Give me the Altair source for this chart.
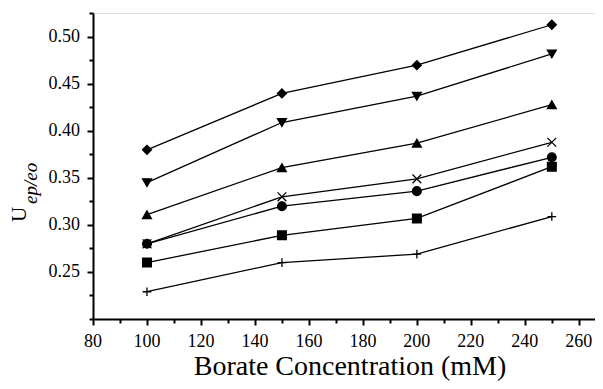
import altair as alt
import pandas as pd

# ---- data ----
conc = [100, 150, 200, 250]
series_names = ["diamond", "tri_down", "tri_up", "cross", "circle", "square", "plus"]
u_diamond = [0.380, 0.440, 0.470, 0.513]
u_tri_down = [0.345, 0.409, 0.437, 0.482]
u_tri_up = [0.311, 0.361, 0.387, 0.428]
u_cross = [0.280, 0.330, 0.349, 0.388]
u_circle = [0.280, 0.320, 0.336, 0.372]
u_square = [0.260, 0.289, 0.307, 0.362]
u_plus = [0.229, 0.260, 0.269, 0.309]

x_major = [80, 100, 120, 140, 160, 180, 200, 220, 240, 260]
x_minor = [90, 110, 130, 150, 170, 190, 210, 230, 250]
y_major = [0.25, 0.30, 0.35, 0.40, 0.45, 0.50]
y_minor = [0.20, 0.225, 0.275, 0.325, 0.375, 0.425, 0.475, 0.525]
x_title = "Borate Concentration (mM)"
y_title_main = "U"
y_title_sub = "ep/eo"

all_values = [u_diamond, u_tri_down, u_tri_up, u_cross, u_circle, u_square, u_plus]
rows = []
for name, vals in zip(series_names, all_values):
    for c, v in zip(conc, vals):
        rows.append({"series": name, "conc": c, "u": v})
df = pd.DataFrame(rows)
xlab_df = pd.DataFrame({"v": x_major, "t": [str(v) for v in x_major]})
ylab_df = pd.DataFrame({"v": y_major, "t": [f"{v:.2f}" for v in y_major]})

FONT = "Liberation Serif"
shape_range = ["diamond", "triangle-down", "triangle-up",
               "M-1,-1L1,1M-1,1L1,-1", "circle", "square", "M-1,0L1,0M0,-1L0,1"]
size_range = [80, 75, 75, 55, 55, 50, 55]

xs = alt.Scale(domain=[80, 266], nice=False, zero=False)
ys = alt.Scale(domain=[0.20, 0.5255], nice=False, zero=False)

x_axis = alt.Axis(values=x_major, orient="bottom", title=None, labels=False,
                  tickSize=6, tickWidth=2, tickColor="black",
                  domainColor="black", domainWidth=2, grid=False)
y_axis = alt.Axis(values=y_major, orient="left", title=None, labels=False,
                  tickSize=6, tickWidth=2, tickColor="black",
                  domainColor="black", domainWidth=2, grid=False)

base = alt.Chart(df)

lines = base.mark_line(color="black", strokeWidth=1.3).encode(
    x=alt.X("conc:Q", scale=xs, axis=x_axis),
    y=alt.Y("u:Q", scale=ys, axis=y_axis),
    detail="series:N",
)

points = base.mark_point(filled=True, fill="black", stroke="black", strokeWidth=1.3, opacity=1).encode(
    x=alt.X("conc:Q", scale=xs, axis=None),
    y=alt.Y("u:Q", scale=ys, axis=None),
    shape=alt.Shape("series:N", scale=alt.Scale(domain=series_names, range=shape_range), legend=None),
    size=alt.Size("series:N", scale=alt.Scale(domain=series_names, range=size_range), legend=None),
)

minor = base.mark_point(opacity=0).encode(
    x=alt.X("conc:Q", scale=xs, axis=alt.Axis(values=x_minor, orient="bottom", labels=False, title=None,
                                              domain=False, grid=False, tickSize=4, tickWidth=2,
                                              tickColor="black")),
    y=alt.Y("u:Q", scale=ys, axis=alt.Axis(values=y_minor, orient="left", labels=False, title=None,
                                           domain=False, grid=False, tickSize=4, tickWidth=2,
                                           tickColor="black")),
)

x_labels = alt.Chart(xlab_df).mark_text(
    font=FONT, fontSize=18, align="center", baseline="alphabetic", color="black"
).encode(x=alt.X("v:Q", scale=xs, axis=None), y=alt.value(334), text="t:N")

y_labels = alt.Chart(ylab_df).mark_text(
    font=FONT, fontSize=18, align="right", baseline="middle", color="black"
).encode(y=alt.Y("v:Q", scale=ys, axis=None), x=alt.value(-13), text="t:N")

title_x = alt.Chart(alt.Data(values=[{"t": x_title}])).mark_text(
    font=FONT, fontSize=28, align="center", baseline="alphabetic", color="black"
).encode(text="t:N", x=alt.value(257), y=alt.value(362))

title_u = alt.Chart(alt.Data(values=[{"t": y_title_main}])).mark_text(
    font=FONT, fontSize=21, angle=270, align="left", baseline="alphabetic", color="black"
).encode(text="t:N", x=alt.value(-67), y=alt.value(209))

title_sub = alt.Chart(alt.Data(values=[{"t": y_title_sub}])).mark_text(
    font=FONT, fontSize=19, fontStyle="italic", angle=270, align="left", baseline="alphabetic", color="black"
).encode(text="t:N", x=alt.value(-56), y=alt.value(191))

chart = alt.layer(lines, points, minor, x_labels, y_labels, title_x, title_u, title_sub).resolve_axis(
    x="independent", y="independent"
).properties(
    width=502, height=306,
    autosize=alt.AutoSizeParams(type="none"),
    padding={"left": 85, "top": 5, "right": 0, "bottom": 62},
).configure_view(stroke=None).configure(background="white")

chart.save("out.html", embed_options={"renderer": "svg", "actions": False})
